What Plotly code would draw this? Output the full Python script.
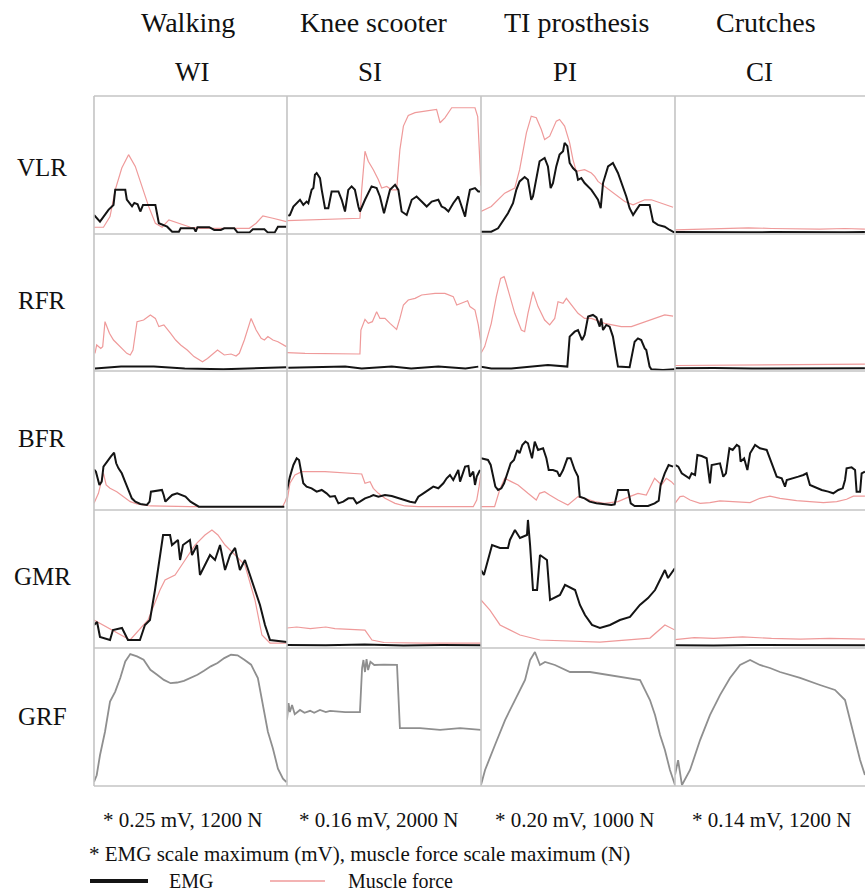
import plotly.graph_objects as go
from plotly.subplots import make_subplots

# ---------------- labels ----------------
conditions = ["Walking", "Knee scooter", "TI prosthesis", "Crutches"]
codes = ["WI", "SI", "PI", "CI"]
muscles = ["VLR", "RFR", "BFR", "GMR"]
row_labels = ["VLR", "RFR", "BFR", "GMR", "GRF"]
scale_notes = ["* 0.25 mV, 1200 N", "* 0.16 mV, 2000 N", "* 0.20 mV, 1000 N", "* 0.14 mV, 1200 N"]
note_text = "* EMG scale maximum (mV), muscle force scale maximum (N)"

# ---------------- data: (% of cycle, fraction of scale maximum) ----------------
# --- VLR ---
WI_VLR_EMG = [(0, .138), (3.1, .09), (7.5, .175), (10.1, .21), (11, .32), (16.2, .32), (17, .25), (19.7, .2),
              (20.9, .225), (22.6, .215), (24, .163), (25.4, .211), (31.8, .211), (33.6, .078), (37.9, .053),
              (40.5, .017), (44, .017), (44.9, .041), (51.8, .041), (52.7, .017), (53.6, .049), (59.7, .049),
              (62.3, .029), (65.7, .029), (67.5, .041), (72.7, .041), (74.4, .01), (80.5, .01), (82.3, .034),
              (88.3, .034), (90.1, .01), (93.6, .01), (95.3, .053), (99.7, .053)]
WI_VLR_F = [(0, .049), (4.9, .049), (8.3, .126), (11, .32), (14.4, .478), (17.9, .575), (21.4, .49), (24.9, .345),
            (28.3, .2), (31.8, .078), (35.3, .049), (38.8, .102), (41.4, .09), (45.7, .066), (50, .049), (55.3, .041),
            (80.5, .041), (84, .078), (87.5, .131), (92.7, .114), (99.7, .09)]
SI_VLR_EMG = [(0.7, .131), (1.5, .138), (3.3, .199), (5, .223), (6.7, .248), (8.4, .211), (10.1, .235), (11, .223),
              (12.7, .32), (13.6, .333), (14.4, .43), (15.3, .442), (17, .405), (17.9, .32), (19.6, .187), (21.3, .187),
              (23, .308), (26.5, .308), (28.2, .248), (29.9, .163), (31.6, .32), (33.3, .345), (35, .32), (36.8, .199),
              (37.6, .163), (40.2, .248), (41.9, .296), (43.6, .345), (46.2, .333), (47.9, .272), (50, .15),
              (51.4, .223), (53.1, .32), (55.7, .357), (57.4, .32), (59.1, .163), (61.7, .138), (64.3, .248),
              (66.8, .272), (69.4, .235), (72, .199), (74.6, .235), (78, .248), (79.7, .199), (81.4, .187),
              (83.2, .163), (85.7, .223), (88.3, .272), (90, .199), (91.8, .126), (92.6, .199), (94.3, .32),
              (96.9, .333), (98.6, .308), (99.5, .308)]
SI_VLR_F = [(0, .097), (37.6, .114), (38.5, .32), (40.2, .6), (41.9, .527), (44.5, .466), (47.1, .393), (48.8, .333),
            (51.4, .345), (54, .32), (56.5, .32), (58.2, .612), (60, .782), (62.5, .859), (66, .879), (71.1, .891),
            (77.1, .903), (78.9, .806), (81.4, .842), (84.9, .915), (96.9, .915), (98.3, .85), (99.5, .5), (100, .35)]
PI_VLR_EMG = [(0, .017), (5.3, .017), (8.8, .041), (11.3, .09), (13.9, .15), (16.5, .223), (18.2, .32), (19.9, .381),
              (22.5, .413), (24.2, .393), (25.9, .248), (26.8, .272), (28.5, .393), (30.2, .527), (32.8, .551),
              (34.5, .49), (35.9, .333), (37.1, .369), (38.8, .49), (40.5, .575), (42.3, .6), (43.1, .66),
              (44.5, .636), (45.7, .515), (47.4, .478), (49.1, .454), (50, .393), (51.7, .405), (53.4, .369),
              (55.2, .345), (56.9, .32), (58.6, .284), (60.3, .248), (61.7, .187), (62.9, .369), (65.5, .49),
              (68, .515), (70.6, .442), (73.2, .345), (74.9, .272), (76.6, .187), (78.4, .138), (80.1, .175),
              (81.8, .211), (86.9, .211), (88.7, .09), (91.2, .066), (94.7, .053), (97.3, .029), (99.8, .01)]
PI_VLR_F = [(0, .163), (5.3, .199), (12.2, .296), (17.4, .333), (19.9, .466), (23.4, .733), (25.9, .854), (28.5, .842),
            (31.1, .757), (32.8, .684), (35.4, .709), (38.8, .818), (40.5, .83), (43.1, .782), (45.7, .66),
            (47.4, .539), (49.1, .454), (53.4, .466), (56.9, .442), (58.6, .417), (60.3, .381), (63.7, .345),
            (68.9, .296), (74.1, .235), (78.4, .211), (84.4, .248), (87.8, .248), (93, .223), (99, .194)]
CI_VLR_EMG = [(0, .015), (12, .013), (25, .016), (38, .012), (50, .014), (62, .012), (75, .015), (88, .013), (98.4, .014)]
CI_VLR_F = [(0, .03), (12, .035), (25, .04), (38, .045), (50, .04), (62, .035), (75, .035), (88, .04), (98.4, .035)]

# --- RFR ---
WI_RFR_EMG = [(0.5, .019), (14, .032), (31, .032), (47, .019), (67, .012), (90, .019), (99.7, .027)]
WI_RFR_F = [(0.5, .129), (1.4, .19), (3.5, .165), (4.5, .178), (5.7, .36), (8, .275), (10.1, .226), (13.6, .178),
            (17, .129), (18.8, .117), (20.2, .153), (22.3, .36), (25.7, .372), (29.2, .409), (31.8, .384),
            (33.6, .324), (36.2, .336), (39.7, .275), (42.3, .226), (44.9, .19), (48.3, .153), (51.8, .105),
            (56.2, .068), (58.8, .092), (62.3, .129), (64, .153), (67.5, .117), (71, .124), (73.6, .109),
            (75.3, .129), (77.9, .226), (79.7, .299), (81.4, .384), (84, .299), (86.6, .238), (88.3, .226),
            (90.1, .251), (92.7, .226), (95.3, .214), (99.7, .178)]
SI_RFR_EMG = [(0.7, .024), (30, .032), (38.5, .019), (54, .032), (64, .019), (78, .032), (92, .019), (98.6, .032)]
SI_RFR_F = [(0, .134), (9.3, .129), (37.6, .124), (38.1, .299), (40.2, .377), (41.9, .348), (44, .36), (46.2, .433),
            (47.9, .384), (50.5, .384), (53.1, .348), (56.5, .304), (58.2, .384), (60, .482), (62.5, .518),
            (66, .53), (69.4, .555), (76.3, .567), (81.4, .567), (85.7, .543), (87.5, .482), (90, .494),
            (93.1, .513), (94.3, .47), (96.9, .445), (98.6, .336), (100, .2)]
PI_RFR_EMG = [(0, .032), (5.3, .019), (15.6, .019), (25.9, .032), (34.5, .044), (44.5, .032), (45.7, .251),
              (48.3, .287), (50, .299), (52.1, .226), (53.4, .263), (55.2, .397), (57.7, .409), (59.5, .392),
              (61.2, .324), (62, .384), (62.9, .299), (64.6, .336), (66.3, .324), (68, .251), (69.8, .105),
              (70.6, .032), (76.6, .027), (77.8, .105), (79.2, .214), (80.9, .238), (82.6, .226), (84.4, .165),
              (85.2, .153), (86.9, .032), (87.8, .012), (93.8, .007), (99.8, .012)]
PI_RFR_F = [(0, .129), (1.9, .178), (5.3, .348), (7.9, .543), (10.1, .676), (11.9, .689), (12.5, .664), (14.8, .543),
            (17.4, .421), (20.8, .299), (22.5, .287), (24.2, .421), (26.8, .579), (29.4, .47), (32.8, .372),
            (35.4, .336), (38, .384), (39.7, .506), (42.3, .494), (44, .53), (46.6, .482), (50, .421), (53.4, .384),
            (56.9, .384), (63.7, .348), (72.3, .324), (77.5, .324), (82.6, .348), (89.5, .384), (94.7, .409),
            (99, .401)]
CI_RFR_EMG = [(0, .02), (20, .022), (40, .018), (60, .02), (80, .022), (98.4, .02)]
CI_RFR_F = [(0, .04), (20, .042), (40, .044), (60, .042), (80, .045), (98.4, .05)]

# --- BFR ---
WI_BFR_EMG = [(0, .293), (1, .276), (2.8, .18), (4, .204), (4.9, .312), (6.6, .348), (8.7, .384), (10.4, .412),
              (11.5, .336), (12.7, .3), (14.4, .264), (16.1, .204), (17.9, .144), (19.6, .084), (21.4, .06),
              (24, .043), (27.4, .036), (28.8, .06), (29.5, .132), (35.2, .144), (36.1, .108), (37, .06),
              (38.7, .084), (40.5, .108), (43.1, .12), (45.7, .108), (47.4, .096), (50, .06), (52.6, .036),
              (54.3, .024), (98.6, .024)]
WI_BFR_F = [(0, .048), (2.3, .12), (4, .216), (4.9, .264), (6.3, .18), (8.3, .156), (11.8, .132), (15.3, .096),
            (18.8, .06), (22.2, .043), (29.2, .029), (50, .024), (97.7, .024), (99, .06), (100, .096)]
SI_BFR_EMG = [(0, .144), (1.5, .24), (3.3, .324), (5, .372), (6.2, .36), (7.2, .288), (8.4, .192), (10.1, .168),
              (12.7, .156), (15.3, .132), (17.9, .144), (20.4, .12), (22.2, .096), (24.7, .1), (26.5, .048),
              (29, .06), (31.6, .084), (34.2, .084), (35.9, .048), (37.6, .06), (40.2, .084), (42.8, .096),
              (44.5, .108), (47.1, .096), (50.5, .108), (54, .1), (57.4, .084), (60.8, .072), (63.4, .06),
              (66, .053), (67.7, .096), (70.3, .12), (72.9, .144), (75.4, .168), (78, .156), (80.6, .192),
              (82.3, .228), (84, .252), (85.7, .216), (88.3, .288), (89.2, .204), (90, .24), (91.8, .312),
              (93.5, .317), (94.3, .24), (96, .276), (96.9, .18), (97.8, .24), (99.5, .288)]
SI_BFR_F = [(0, .06), (1.5, .192), (4.1, .252), (7.6, .276), (19.6, .276), (29.9, .269), (38.5, .259), (40.2, .192),
            (42.8, .204), (44.5, .156), (47.1, .12), (50.5, .084), (55.7, .048), (60.8, .029), (67.7, .024),
            (96, .024), (97.8, .072), (99, .168), (100, .264)]
PI_BFR_EMG = [(0, .372), (3.6, .36), (5, .324), (6.2, .24), (7.4, .168), (8.8, .144), (10.5, .156), (11.9, .192),
              (13.6, .264), (15.3, .336), (17, .36), (18.7, .432), (19.9, .408), (21.3, .468), (22.9, .492),
              (24.2, .48), (26.3, .372), (27.7, .492), (29.4, .432), (32, .444), (33.7, .372), (34.9, .288),
              (37.1, .288), (39.3, .276), (40.5, .24), (42.3, .288), (44.5, .372), (46.2, .372), (48.3, .288),
              (50, .24), (50.9, .096), (53.4, .084), (56, .06), (59.5, .048), (67.2, .036), (68.9, .041),
              (70.6, .144), (75.8, .144), (77.2, .048), (79.2, .029), (86.1, .029), (89.5, .048), (91.6, .067),
              (92.6, .18), (94.7, .264), (96.7, .324), (99, .312)]
PI_BFR_F = [(0, .024), (7, .024), (9.6, .144), (12.2, .228), (15.6, .204), (19.1, .18), (24.2, .12), (28.5, .072),
            (30.2, .12), (32.8, .132), (35.4, .108), (39.7, .072), (44.8, .036), (48.3, .072), (50, .096),
            (53.4, .084), (58.6, .06), (63.7, .048), (70.6, .06), (76.6, .096), (80.9, .12), (85.2, .108),
            (87.8, .18), (89.5, .228), (93, .18), (95.5, .228), (98.1, .204), (99.8, .18)]
CI_BFR_EMG = [(0, .324), (1.7, .312), (3.5, .264), (6, .24), (7.4, .228), (8.6, .264), (10.4, .252), (11.6, .396),
              (13.8, .388), (16.4, .372), (17.8, .24), (18.1, .192), (19, .324), (23.3, .336), (25, .24),
              (26.4, .264), (28.2, .444), (29.9, .432), (32, .468), (33.3, .456), (34, .348), (35.8, .372),
              (37.5, .288), (38.9, .408), (41.5, .468), (44, .444), (47.5, .432), (49.6, .36), (51.3, .288),
              (52.7, .24), (55.3, .228), (57, .168), (57.9, .216), (61.3, .228), (63.9, .24), (66.5, .252),
              (68.2, .264), (69.9, .18), (73.4, .156), (76, .144), (79.4, .132), (82, .12), (84.6, .144),
              (86.9, .156), (88.1, .216), (88.9, .3), (91.5, .307), (93.3, .288), (94.1, .132), (95.9, .132),
              (96.7, .264), (98.4, .276)]
CI_BFR_F = [(0, .048), (2.6, .096), (4.3, .1), (7.8, .072), (13, .048), (18.1, .053), (23.3, .065), (28.5, .06),
            (38.9, .053), (44, .084), (49.2, .1), (54.4, .084), (63, .067), (69.9, .06), (76.9, .053), (83.8, .06),
            (88.9, .077), (92.4, .1), (98.4, .1)]

# --- GMR ---
WI_GMR_EMG = [(0, .167), (1.6, .188), (3.1, .08), (8.3, .058), (9.8, .13), (14.5, .145), (17.6, .058), (23.8, .058),
              (26.4, .167), (29, .203), (31.6, .42), (34.2, .674), (35.8, .819), (39.4, .819), (40.4, .746),
              (43.5, .783), (44.6, .638), (46.1, .746), (49.7, .783), (50.8, .674), (53.4, .746), (54.9, .529),
              (57.5, .601), (60.1, .674), (62.7, .638), (65.3, .746), (67.9, .565), (70.5, .674), (73.1, .725),
              (75.6, .565), (78.2, .638), (80.8, .529), (83.4, .42), (86, .312), (88.6, .167), (91.2, .058),
              (100, .043)]
WI_GMR_F = [(0, .203), (18.7, .058), (28, .203), (34.2, .42), (36.8, .493), (42, .529), (47.2, .638), (52.3, .746),
            (57.5, .819), (61.1, .855), (64.2, .819), (67.9, .746), (73.1, .674), (78.2, .601), (83.4, .348),
            (87, .094), (91.2, .036), (100, .036)]
SI_GMR_EMG = [(0, .022), (20, .02), (40, .025), (60, .018), (80, .022), (100, .02)]
SI_GMR_F = [(0, .145), (5, .152), (12, .14), (20, .152), (24.7, .14), (30, .135), (40.2, .13), (43.8, .058),
            (50, .04), (70, .036), (100, .036)]
PI_GMR_EMG = [(0, .565), (1.5, .529), (5.7, .746), (9.8, .725), (13.9, .725), (14.9, .783), (17.5, .855),
              (20.1, .797), (23.7, .819), (24.2, .928), (25.3, .746), (26.8, .42), (28.9, .42), (30.4, .674),
              (34, .638), (35.6, .348), (40.7, .384), (43.3, .457), (48.5, .42), (51, .312), (53.6, .239),
              (57.2, .167), (61.3, .145), (66.5, .167), (71.6, .203), (76.8, .225), (81.9, .312), (86.1, .362),
              (89.7, .42), (92.3, .493), (94.8, .565), (96.4, .507), (100, .58)]
PI_GMR_F = [(0, .348), (4.6, .275), (9.8, .167), (20.1, .094), (30.4, .058), (61.3, .043), (87.1, .072),
            (94.8, .167), (100, .13)]
CI_GMR_EMG = [(0, .02), (20, .018), (40, .022), (60, .02), (80, .018), (98.4, .02)]
CI_GMR_F = [(0, .06), (10, .075), (20, .07), (35, .08), (50, .07), (65, .065), (80, .07), (98.4, .065)]

# --- GRF (fraction of panel scale) ---
WI_GRF = [(0, .029), (1.4, .078), (3.1, .223), (5.7, .393), (8.3, .612), (11, .684), (13.6, .782), (16.2, .903),
          (18.8, .956), (22.3, .939), (25.7, .915), (29.2, .842), (32.7, .806), (36.2, .769), (39.7, .745),
          (43.1, .75), (46.6, .762), (50.1, .782), (53.6, .806), (57, .835), (60.5, .867), (64, .891), (67.5, .927),
          (71, .951), (74.4, .947), (77.9, .915), (81.4, .879), (84.9, .782), (86.6, .66), (88.3, .515),
          (90.1, .393), (92.7, .272), (95.3, .126), (97.9, .053), (99.7, .029)]
SI_GRF = [(0, .48), (0.8, .6), (1.5, .536), (2.6, .587), (4, .52), (6.7, .551), (9, .53), (11.9, .545), (14, .53),
          (17, .551), (20, .535), (22.2, .545), (30, .536), (37.6, .536), (38.7, .855), (39.4, .913), (40.2, .826),
          (41, .92), (41.8, .84), (43, .9), (45, .877), (50, .88), (56.7, .877), (58.2, .42), (68.6, .42),
          (78.9, .406), (89.2, .42), (100, .406)]
PI_GRF = [(0, .007), (2.1, .116), (7.2, .297), (12.4, .478), (17.5, .623), (22.7, .768), (25.3, .913), (27.8, .971),
          (30.4, .877), (33, .899), (38.1, .877), (45.9, .826), (56.2, .826), (66.5, .804), (76.8, .783),
          (82, .768), (84.5, .696), (87.1, .623), (89.7, .514), (92.3, .37), (94.8, .261), (97.4, .116), (100, .007)]
CI_GRF = [(0, .08), (1.6, .188), (3.6, .007), (7.8, .116), (13, .333), (18.1, .514), (23.3, .659), (28.5, .783),
          (33.7, .877), (38.9, .913), (44, .877), (49.2, .855), (54.4, .826), (64.8, .783), (75.1, .732),
          (82.9, .696), (88.1, .623), (90.7, .478), (93.3, .333), (95.9, .188), (98.4, .08)]

EMG = [[WI_VLR_EMG, SI_VLR_EMG, PI_VLR_EMG, CI_VLR_EMG],
       [WI_RFR_EMG, SI_RFR_EMG, PI_RFR_EMG, CI_RFR_EMG],
       [WI_BFR_EMG, SI_BFR_EMG, PI_BFR_EMG, CI_BFR_EMG],
       [WI_GMR_EMG, SI_GMR_EMG, PI_GMR_EMG, CI_GMR_EMG]]
FORCE = [[WI_VLR_F, SI_VLR_F, PI_VLR_F, CI_VLR_F],
         [WI_RFR_F, SI_RFR_F, PI_RFR_F, CI_RFR_F],
         [WI_BFR_F, SI_BFR_F, PI_BFR_F, CI_BFR_F],
         [WI_GMR_F, SI_GMR_F, PI_GMR_F, CI_GMR_F]]
GRF = [WI_GRF, SI_GRF, PI_GRF, CI_GRF]

# ---------------- layout geometry (pixels) ----------------
W, H = 865, 895
col_px = [94, 287, 481, 675, 865]
row_px = [96, 234, 371, 510, 648, 786]
L, R, T, B = col_px[0], W - col_px[-1], row_px[0], H - row_px[-1]
PW, PH = W - L - R, H - T - B


def px(xp):
    return (xp - L) / PW


def py(yp):
    return (row_px[-1] - yp) / PH


FONT = "Liberation Serif, Times New Roman, serif"
EMG_COLOR = "#141414"
F_COLOR = "#ef9a9a"
GRF_COLOR = "#8f8f8f"
BORDER = "#c4c4c4"

fig = make_subplots(rows=5, cols=4, horizontal_spacing=0, vertical_spacing=0)


def unzip(pts):
    return [p[0] for p in pts], [p[1] for p in pts]


for r in range(4):
    for c in range(4):
        fx, fy = unzip(FORCE[r][c])
        fig.add_trace(go.Scatter(x=fx, y=fy, mode="lines", line=dict(color=F_COLOR, width=1.2),
                                 showlegend=False, hoverinfo="skip"), row=r + 1, col=c + 1)
        ex, ey = unzip(EMG[r][c])
        fig.add_trace(go.Scatter(x=ex, y=ey, mode="lines", line=dict(color=EMG_COLOR, width=2),
                                 showlegend=False, hoverinfo="skip"), row=r + 1, col=c + 1)
for c in range(4):
    gx, gy = unzip(GRF[c])
    fig.add_trace(go.Scatter(x=gx, y=gy, mode="lines", line=dict(color=GRF_COLOR, width=1.8),
                             showlegend=False, hoverinfo="skip"), row=5, col=c + 1)

# axes domains / ranges
for r in range(5):
    for c in range(4):
        idx = r * 4 + c + 1
        xname = "xaxis" if idx == 1 else f"xaxis{idx}"
        yname = "yaxis" if idx == 1 else f"yaxis{idx}"
        xr = [0, 100] if c < 3 else [0, 100 * (col_px[4] - col_px[3]) / 193.0]
        fig.layout[xname].update(domain=[px(col_px[c]), px(col_px[c + 1])], range=xr,
                                 showgrid=False, zeroline=False, showticklabels=False, ticks="", showline=False)
        fig.layout[yname].update(domain=[py(row_px[r + 1]), py(row_px[r])], range=[0, 1],
                                 showgrid=False, zeroline=False, showticklabels=False, ticks="", showline=False)

shapes = []
for xp in col_px[:4]:
    shapes.append(dict(type="line", xref="paper", yref="paper", x0=px(xp), x1=px(xp), y0=py(row_px[-1]),
                       y1=py(row_px[0]), line=dict(color=BORDER, width=1.6), layer="above"))
for yp in row_px:
    shapes.append(dict(type="line", xref="paper", yref="paper", x0=px(col_px[0]), x1=1.0, y0=py(yp), y1=py(yp),
                       line=dict(color=BORDER, width=1.6), layer="above"))
# legend samples
LEG_Y = 881
shapes.append(dict(type="line", xref="paper", yref="paper", x0=px(90), x1=px(148), y0=py(LEG_Y), y1=py(LEG_Y),
                   line=dict(color=EMG_COLOR, width=4)))
shapes.append(dict(type="line", xref="paper", yref="paper", x0=px(270), x1=px(325), y0=py(LEG_Y), y1=py(LEG_Y),
                   line=dict(color=F_COLOR, width=1.5)))

ann = []


def add_text(text, xp, yp, size, anchor="center"):
    ann.append(dict(text=text, x=px(xp), y=py(yp), xref="paper", yref="paper", showarrow=False,
                    xanchor=anchor, yanchor="middle", font=dict(family=FONT, size=size, color="#111111")))


for name, xc in zip(conditions, [188, 374, 576, 766]):
    add_text(name, xc, 22, 28)
for code, xc in zip(codes, [192, 370, 565, 759]):
    add_text(code, xc, 72, 27)
for lab, yc in zip(row_labels, [167, 300, 438, 576, 716]):
    add_text(lab, 42, yc, 25)
for note, xc in zip(scale_notes, [182, 378, 574, 771]):
    add_text(note, xc, 820, 21)
add_text(note_text, 87, 854, 21, "left")
add_text("EMG", 167, LEG_Y, 20, "left")
add_text("Muscle force", 346, LEG_Y, 20, "left")

fig.update_layout(width=W, height=H, margin=dict(l=L, r=R, t=T, b=B), plot_bgcolor="white",
                  paper_bgcolor="white", shapes=shapes, annotations=ann, showlegend=False)

fig.write_html("out.html")
